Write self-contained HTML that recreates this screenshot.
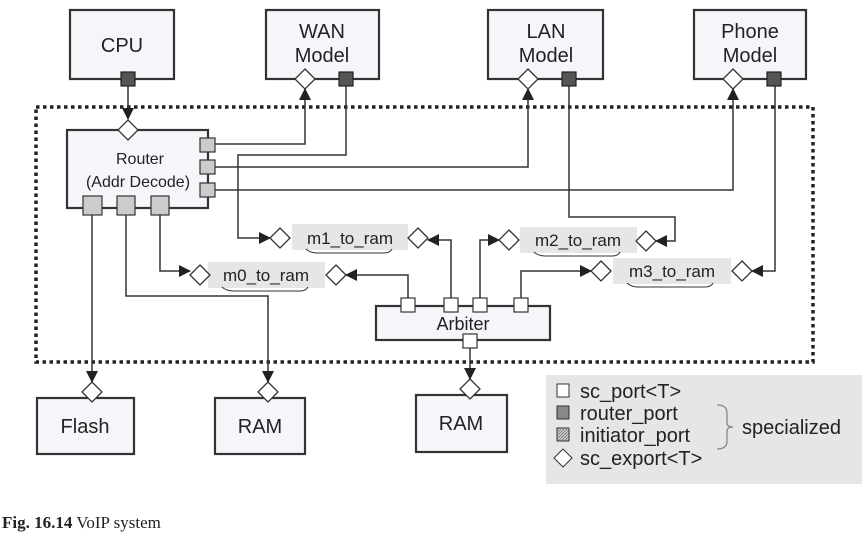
<!DOCTYPE html>
<html><head><meta charset="utf-8"><style>
body{margin:0;background:#fff}
svg{display:block}
text{font-family:"Liberation Sans",sans-serif;fill:#222}
text.cap{font-family:"Liberation Serif",serif}
</style></head><body>
<svg width="865" height="540" viewBox="0 0 865 540" xmlns="http://www.w3.org/2000/svg">
<defs>
<marker id="a" markerWidth="12" markerHeight="12" refX="11" refY="6" orient="auto" markerUnits="userSpaceOnUse">
<path d="M0,0 L12,6 L0,12 z" fill="#222"/></marker>
<pattern id="h" width="3" height="3" patternUnits="userSpaceOnUse"><rect width="3" height="3" fill="#ccc"/><path d="M0,3 L3,0" stroke="#777" stroke-width="0.8"/></pattern>
</defs>
<g stroke="#333" stroke-width="2.2" fill="#f6f6fa">
<rect x="70" y="10" width="104" height="69"/>
<rect x="266" y="10" width="113" height="69"/>
<rect x="488" y="10" width="115" height="69"/>
<rect x="694" y="10" width="112" height="69"/>
<rect x="67" y="130" width="141" height="78"/>
<rect x="376" y="306" width="174" height="34"/>
<rect x="37" y="398" width="97" height="56"/>
<rect x="215" y="398" width="90" height="56"/>
<rect x="416" y="395" width="91" height="57"/>
</g>
<rect x="36" y="107" width="777" height="255" fill="none" stroke="#222" stroke-width="3.5" stroke-dasharray="3.5,3.5"/>
<g fill="#e6e6e6">
<rect x="292" y="224" width="116" height="26"/>
<rect x="208" y="262" width="117" height="26"/>
<rect x="520" y="227" width="117" height="26"/>
<rect x="613" y="258" width="118" height="26"/>
</g>
<g fill="none" stroke="#333" stroke-width="1">
<path d="M306,249 q4,4 12,4 h66 q6,0 8,-4"/>
<path d="M222,287 q4,4 12,4 h66 q6,0 8,-4"/>
<path d="M534,252 q4,4 12,4 h66 q6,0 8,-4"/>
<path d="M627,283 q4,4 12,4 h66 q6,0 8,-4"/>
</g>
<g font-size="17" text-anchor="middle">
<text x="350" y="244">m1_to_ram</text>
<text x="266" y="281">m0_to_ram</text>
<text x="578" y="246">m2_to_ram</text>
<text x="672" y="277">m3_to_ram</text>
</g>
<g fill="none" stroke="#333" stroke-width="1.5">
<path d="M128,86 V119" marker-end="url(#a)"/>
<path d="M215,144 H305 V89" marker-end="url(#a)"/>
<path d="M346,86 V155 H238 V238 H270" marker-end="url(#a)"/>
<path d="M215,167 H528 V89" marker-end="url(#a)"/>
<path d="M215,190 H733 V89" marker-end="url(#a)"/>
<path d="M569,86 V217 H675 V241 H656" marker-end="url(#a)"/>
<path d="M775,86 V271 H752" marker-end="url(#a)"/>
<path d="M92,215 V382" marker-end="url(#a)"/>
<path d="M126,215 V296 H268 V382" marker-end="url(#a)"/>
<path d="M160,215 V271 H190" marker-end="url(#a)"/>
<path d="M408,298 V275 H346" marker-end="url(#a)"/>
<path d="M451,298 V240 H428" marker-end="url(#a)"/>
<path d="M480,298 V240 H499" marker-end="url(#a)"/>
<path d="M521,298 V271 H591" marker-end="url(#a)"/>
<path d="M470,347 V379" marker-end="url(#a)"/>
</g>
<g fill="#fff" stroke="#333" stroke-width="1.3">
<path d="M305,69 l10,10 l-10,10 l-10,-10z"/>
<path d="M528,69 l10,10 l-10,10 l-10,-10z"/>
<path d="M733,69 l10,10 l-10,10 l-10,-10z"/>
<path d="M128,120 l10,10 l-10,10 l-10,-10z"/>
<path d="M280,228 l10,10 l-10,10 l-10,-10z"/>
<path d="M418,228 l10,10 l-10,10 l-10,-10z"/>
<path d="M200,265 l10,10 l-10,10 l-10,-10z"/>
<path d="M336,265 l10,10 l-10,10 l-10,-10z"/>
<path d="M509,230 l10,10 l-10,10 l-10,-10z"/>
<path d="M646,231 l10,10 l-10,10 l-10,-10z"/>
<path d="M601,261 l10,10 l-10,10 l-10,-10z"/>
<path d="M742,261 l10,10 l-10,10 l-10,-10z"/>
<path d="M92,382 l10,10 l-10,10 l-10,-10z"/>
<path d="M268,382 l10,10 l-10,10 l-10,-10z"/>
<path d="M470,379 l10,10 l-10,10 l-10,-10z"/>
</g>
<g fill="#555" stroke="#222" stroke-width="1.2">
<rect x="121" y="72" width="14" height="14"/>
<rect x="339" y="72" width="14" height="14"/>
<rect x="562" y="72" width="14" height="14"/>
<rect x="767" y="72" width="14" height="14"/>
</g>
<g fill="#ccc" stroke="#333" stroke-width="1.2">
<rect x="200" y="138" width="15" height="14"/>
<rect x="200" y="160" width="15" height="14"/>
<rect x="200" y="183" width="15" height="14"/>
<rect x="83" y="196" width="19" height="19"/>
<rect x="117" y="196" width="18" height="19"/>
<rect x="151" y="196" width="18" height="19"/>
</g>
<g fill="#fff" stroke="#333" stroke-width="1.2">
<rect x="401" y="298" width="14" height="14"/>
<rect x="444" y="298" width="14" height="14"/>
<rect x="473" y="298" width="14" height="14"/>
<rect x="514" y="298" width="14" height="14"/>
<rect x="463" y="334" width="14" height="14"/>
</g>
<g font-size="20" text-anchor="middle">
<text x="122" y="52">CPU</text>
<text x="322" y="38">WAN</text><text x="322" y="62">Model</text>
<text x="546" y="38">LAN</text><text x="546" y="62">Model</text>
<text x="750" y="38">Phone</text><text x="750" y="62">Model</text>
<text x="85" y="433">Flash</text>
<text x="260" y="433">RAM</text>
<text x="461" y="430">RAM</text>
</g>
<g font-size="16" text-anchor="middle">
<text x="140" y="164">Router</text>
<text x="138" y="187">(Addr Decode)</text>
</g>
<text x="463" y="330" font-size="18" text-anchor="middle">Arbiter</text>
<rect x="546" y="375" width="316" height="109" fill="#e6e6e6"/>
<rect x="557" y="384" width="12" height="13" fill="#fff" stroke="#333"/>
<rect x="557" y="406" width="12" height="13" fill="#888" stroke="#333"/>
<rect x="557" y="428" width="12" height="13" fill="url(#h)" stroke="#333"/>
<path d="M563,449 l9,9 l-9,9 l-9,-9z" fill="#fff" stroke="#333"/>
<g font-size="20">
<text x="580" y="398">sc_port&lt;T&gt;</text>
<text x="580" y="420">router_port</text>
<text x="580" y="442">initiator_port</text>
<text x="580" y="465">sc_export&lt;T&gt;</text>
<text x="742" y="434">specialized</text>
</g>
<path d="M717,405 q10,0 10,8 v10 q0,4 6,4 q-6,0 -6,4 v10 q0,8 -10,8" fill="none" stroke="#888" stroke-width="1.3"/>
<text class="cap" x="2" y="528" font-size="17"><tspan font-weight="bold">Fig. 16.14</tspan>   VoIP system</text>
</svg>
</body></html>
